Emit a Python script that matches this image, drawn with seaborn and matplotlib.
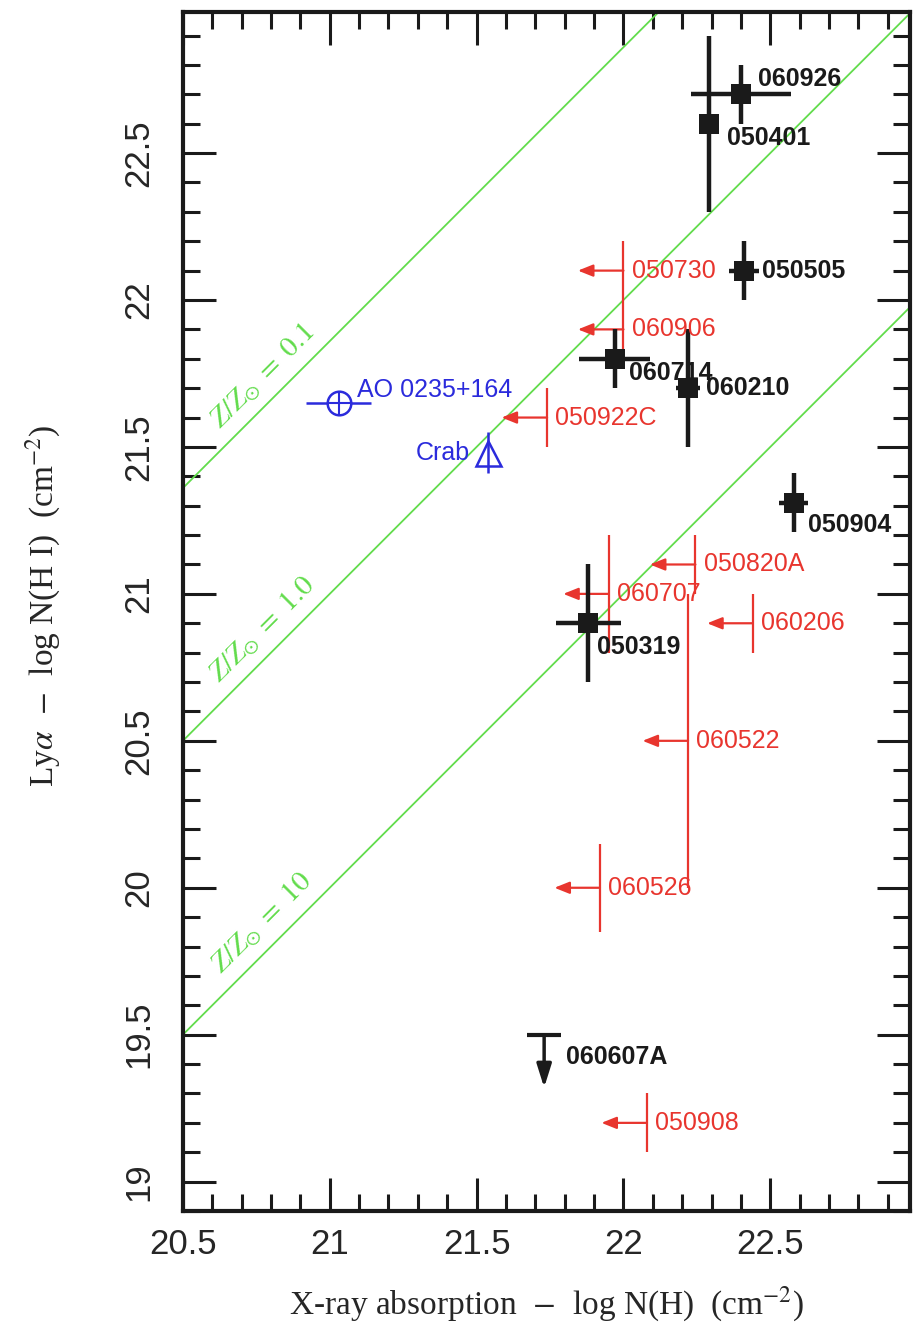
import numpy as np
import pandas as pd
import seaborn as sns
import matplotlib.pyplot as plt
from matplotlib.ticker import MultipleLocator, FuncFormatter

# GRBs with both measurements (black): X-ray log N(H) vs Lya log N(HI)
det_names = ['060926', '050401', '050505', '060714', '060210', '050904', '050319']
det_x = [22.40, 22.29, 22.41, 21.97, 22.22, 22.58, 21.88]
det_xerr = [0.17, 0.0, 0.05, 0.12, 0.04, 0.05, 0.11]
det_y = [22.70, 22.60, 22.10, 21.80, 21.70, 21.31, 20.90]
det_yerr = [0.10, 0.30, 0.10, 0.10, 0.20, 0.10, 0.20]

# X-ray upper limits (red)
lim_names = ['050730', '060906', '050922C', '050820A', '060707',
             '060206', '060522', '060526', '050908']
lim_x = [22.00, 22.00, 21.74, 22.245, 21.95, 22.44, 22.22, 21.92, 22.08]
lim_y = [22.10, 21.90, 21.60, 21.10, 21.00, 20.90, 20.50, 20.00, 19.20]
lim_yerr = [0.10, 0.10, 0.10, 0.10, 0.20, 0.10, 0.50, 0.15, 0.10]

# Lya upper limit (black)
ul_names = ['060607A']
ul_x = [21.73]
ul_y = [19.50]

# comparison sources (blue)
ao_x, ao_xerr, ao_y = [21.03], [0.11], [21.65]
crab_x, crab_y, crab_yerr = [21.54], [21.48], [0.07]

# metallicity lines: log N(HI) = log N(H) + offset
z_labels = ['0.1', '1.0', '10']
z_offsets = [0.86, 0.0, -1.0]

# label offsets in points (layout only)
det_off = [(12, 11), (13, -10), (13, 0), (10, -10), (13, 0), (10, -16), (6, -17)]

sns.set_theme(style='ticks')
plt.rcParams['font.family'] = ['Liberation Sans', 'DejaVu Sans']
plt.rcParams['mathtext.fontset'] = 'stix'

red = '#e8352e'
blue = '#2b2bdc'
green = '#62dc4c'

fig = plt.figure(figsize=(9.19, 13.33), dpi=100)
ax = fig.add_axes([0.199, 0.0915, 0.791, 0.8995])
xlim = (20.5, 22.975)
ylim = (18.9, 22.98)

# metallicity lines
for lab, off in zip(z_labels, z_offsets):
    xs = np.array(xlim)
    sns.lineplot(x=xs, y=xs + off, color=green, lw=1.3, ax=ax, zorder=1)
    tx = 20.77
    ax.text(tx, tx + off + 0.11, rf'$Z/Z_{{\odot}}\ =\ {lab}$', rotation=45,
            transform_rotates_text=True, rotation_mode='anchor',
            ha='center', va='center', color=green, fontsize=21)

# red X-ray upper limits
ax.errorbar(lim_x, lim_y, yerr=lim_yerr, fmt='none', ecolor=red,
            elinewidth=1.6, capsize=0, zorder=2)
for name, x, y in zip(lim_names, lim_x, lim_y):
    ax.annotate('', xy=(x - 0.155, y), xytext=(x, y),
                arrowprops=dict(arrowstyle='-|>,head_length=0.45,head_width=0.18',
                                color=red, lw=1.6, shrinkA=0, shrinkB=0,
                                mutation_scale=20), zorder=2)
    ax.annotate(name, (x, y), xytext=(6, 0), textcoords='offset points',
                ha='left', va='center', color=red, fontsize=18, zorder=5)

# black detections
ax.errorbar(det_x, det_y, xerr=det_xerr, yerr=det_yerr, fmt='none',
            ecolor='k', elinewidth=3.2, capsize=0, zorder=3)
sns.scatterplot(x=det_x, y=det_y, marker='s', s=200, color='k',
                edgecolor='k', linewidth=0, ax=ax, zorder=4)
for name, x, y, (dx, dy) in zip(det_names, det_x, det_y, det_off):
    ax.annotate(name, (x, y), xytext=(dx, dy), textcoords='offset points',
                ha='left', va='center', color='k', fontsize=18,
                fontweight='bold', zorder=5)

# black Lya upper limit
for name, x, y in zip(ul_names, ul_x, ul_y):
    ax.plot([x], [y], marker='_', ms=24, mew=3, color='k', zorder=3)
    ax.annotate('', xy=(x, y - 0.18), xytext=(x, y),
                arrowprops=dict(arrowstyle='-|>,head_length=0.7,head_width=0.22',
                                color='k', lw=2.5, shrinkA=0, shrinkB=0,
                                mutation_scale=20), zorder=3)
    ax.annotate(name, (x, y), xytext=(16, -16), textcoords='offset points',
                ha='left', va='center', color='k', fontsize=18,
                fontweight='bold', zorder=5)

# blue comparison sources
ax.errorbar(ao_x, ao_y, xerr=ao_xerr, fmt='none', ecolor=blue,
            elinewidth=1.8, capsize=0, zorder=3)
ax.plot(ao_x, ao_y, marker='o', ms=17, mfc='white', mec=blue, mew=1.8,
        ls='none', zorder=4)
ax.plot(ao_x, ao_y, marker='+', ms=17, mec=blue, mew=1.5, ls='none', zorder=4)
ax.annotate('AO 0235+164', (ao_x[0], ao_y[0]), xytext=(13, 9),
            textcoords='offset points', ha='left', va='center', color=blue,
            fontsize=18)

ax.errorbar(crab_x, crab_y, yerr=crab_yerr, fmt='none', ecolor=blue,
            elinewidth=1.8, capsize=0, zorder=3)
ax.plot(crab_x, crab_y, marker='^', ms=18, mfc='none', mec=blue, mew=1.8,
        ls='none', zorder=4)
ax.annotate('Crab', (crab_x[0], crab_y[0]), xytext=(-13, 0),
            textcoords='offset points', ha='right', va='center', color=blue,
            fontsize=18)

ax.set_xlim(*xlim)
ax.set_ylim(*ylim)
fmt = FuncFormatter(lambda v, p: f'{v:g}')
for axis in (ax.xaxis, ax.yaxis):
    axis.set_major_locator(MultipleLocator(0.5))
    axis.set_minor_locator(MultipleLocator(0.1))
    axis.set_major_formatter(fmt)
ax.tick_params(which='both', direction='in', top=True, right=True,
               width=2.2, color='k')
ax.tick_params(which='major', length=24, labelsize=25)
ax.tick_params(which='minor', length=12.5)
ax.tick_params(axis='x', pad=12)
ax.tick_params(axis='y', labelrotation=90, pad=20)
for lab in ax.get_yticklabels():
    lab.set_va('center')
for sp in ax.spines.values():
    sp.set_linewidth(3)
    sp.set_color('k')

ax.set_xlabel(r'X-ray absorption  $-$  log N(H)  (cm$^{-2}$)',
              family='Liberation Serif', fontsize=24)
ax.set_ylabel(r'Ly$\alpha$  $-$  log N(H I)  (cm$^{-2}$)',
              family='Liberation Serif', fontsize=24)
ax.xaxis.set_label_coords(0.5, -0.062)
ax.yaxis.set_label_coords(-0.165, 0.505)

fig.savefig('out.png', dpi=100)
